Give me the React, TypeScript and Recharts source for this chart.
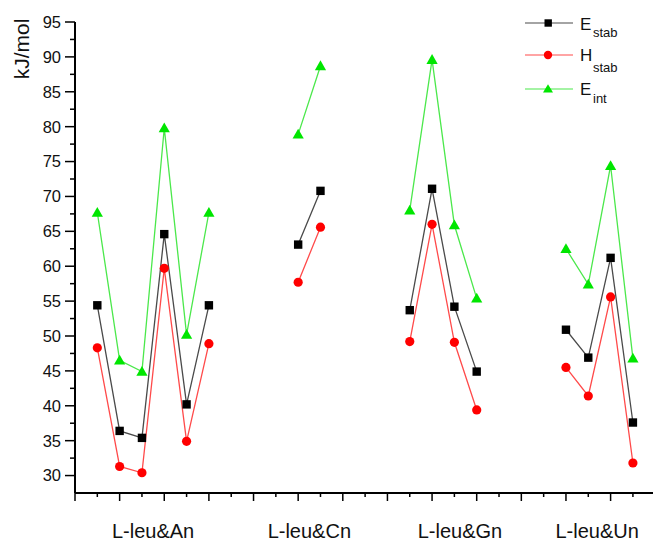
import React from "react";
import { LineChart, Line, XAxis, YAxis, Legend } from "recharts";

const groups = ["L-leu&An", "L-leu&Cn", "L-leu&Gn", "L-leu&Un"];
const groupLabelPos = [3.5, 10.5, 17.25, 23.4];
const groupSizes = [6, 2, 4, 4];
const positions = [1, 2, 3, 4, 5, 6, 10, 11, 15, 16, 17, 18, 22, 23, 24, 25];
const eStab = [54.4, 36.4, 35.4, 64.6, 40.2, 54.4, 63.1, 70.8, 53.7, 71.1, 54.2, 44.9, 50.9, 46.9, 61.2, 37.6];
const hStab = [48.3, 31.3, 30.4, 59.7, 34.9, 48.9, 57.7, 65.6, 49.2, 66.0, 49.1, 39.4, 45.5, 41.4, 55.6, 31.8];
const eInt = [67.7, 46.5, 44.9, 79.8, 50.2, 67.7, 78.9, 88.7, 68.0, 89.6, 65.9, 55.4, 62.5, 57.4, 74.4, 46.8];
const yTicks = [30, 32.5, 35, 37.5, 40, 42.5, 45, 47.5, 50, 52.5, 55, 57.5, 60, 62.5, 65, 67.5, 70, 72.5, 75, 77.5, 80, 82.5, 85, 87.5, 90, 92.5, 95];
const xMinorTicks = [0, 1, 2, 3, 4, 5, 6, 7, 8, 9, 10, 11, 12, 13, 14, 15, 16, 17, 18, 19, 20, 21, 22, 23, 24, 25];

const FONT = "'Liberation Sans', Arial, sans-serif";
const C_ESTAB_LINE = "#4a4a4a";
const C_HSTAB_LINE = "#ff4a4a";
const C_EINT_LINE = "#4be84b";
const C_ESTAB = "#000000";
const C_HSTAB = "#ff0000";
const C_EINT = "#00e600";

// build rows, inserting a null row between groups to break lines
const data: any[] = [];
{
  let k = 0;
  groupSizes.forEach((n, g) => {
    for (let i = 0; i < n; i++) {
      data.push({ x: positions[k], eStab: eStab[k], hStab: hStab[k], eInt: eInt[k] });
      k++;
    }
    if (g < groupSizes.length - 1) {
      data.push({ x: (positions[k - 1] + positions[k]) / 2, eStab: null, hStab: null, eInt: null });
    }
  });
}

const xTicks = [...xMinorTicks, ...groupLabelPos].sort((a, b) => a - b);

function XTick(props: any) {
  const { x, y, payload } = props;
  const v = payload.value;
  const idx = groupLabelPos.indexOf(v);
  if (idx >= 0) {
    return (
      <text x={x} y={y + 45} textAnchor="middle" fontSize={20} fontFamily={FONT} fill="#111">
        {groups[idx]}
      </text>
    );
  }
  const len = v % 2 === 0 ? 8 : 4;
  return <line x1={x} x2={x} y1={y} y2={y + len} stroke="#000" strokeWidth={1.5} />;
}

function YTick(props: any) {
  const { x, y, payload } = props;
  const v = payload.value;
  if (v % 5 === 0) {
    return (
      <g>
        <line x1={x - 10} x2={x} y1={y} y2={y} stroke="#000" strokeWidth={1.5} />
        <text x={x - 14} y={y} dy="0.36em" textAnchor="end" fontSize={16.5} fontFamily={FONT} fill="#111">
          {v}
        </text>
      </g>
    );
  }
  return <line x1={x - 5} x2={x} y1={y} y2={y} stroke="#000" strokeWidth={1.5} />;
}

function SquareDot(props: any) {
  const { cx, cy, index } = props;
  if (cx == null || cy == null) return <g key={"s" + index} />;
  return <rect key={"s" + index} x={cx - 4.2} y={cy - 4.2} width={8.4} height={8.4} fill={C_ESTAB} />;
}
function CircleDot(props: any) {
  const { cx, cy, index } = props;
  if (cx == null || cy == null) return <g key={"c" + index} />;
  return <circle key={"c" + index} cx={cx} cy={cy} r={4.6} fill={C_HSTAB} />;
}
function TriDot(props: any) {
  const { cx, cy, index } = props;
  if (cx == null || cy == null) return <g key={"t" + index} />;
  const s = 5.6;
  return (
    <polygon
      key={"t" + index}
      points={`${cx},${cy - s} ${cx + s},${cy + s * 0.75} ${cx - s},${cy + s * 0.75}`}
      fill={C_EINT}
    />
  );
}

function LegendContent() {
  const rows = [
    { line: C_ESTAB_LINE, kind: "sq", main: "E", sub: "stab", y: 23, base: 29.5, subBase: 37 },
    { line: C_HSTAB_LINE, kind: "ci", main: "H", sub: "stab", y: 55, base: 61, subBase: 72 },
    { line: C_EINT_LINE, kind: "tr", main: "E", sub: "int", y: 89, base: 95, subBase: 103 },
  ];
  return (
    <svg width={135} height={110} style={{ display: "block" }}>
      {rows.map((r, i) => (
        <g key={i}>
          <line x1={10} x2={58} y1={r.y} y2={r.y} stroke={r.line} strokeWidth={1.2} />
          {r.kind === "sq" && <rect x={29.5} y={r.y - 3.7} width={7.4} height={7.4} fill={C_ESTAB} />}
          {r.kind === "ci" && <circle cx={33} cy={r.y} r={4.2} fill={C_HSTAB} />}
          {r.kind === "tr" && (
            <polygon points={`33,${r.y - 4.8} 38,${r.y + 3.6} 28,${r.y + 3.6}`} fill={C_EINT} />
          )}
          <text x={65} y={r.base} fontSize={17} fontFamily={FONT} fill="#111">
            {r.main}
          </text>
          <text x={78} y={r.subBase} fontSize={13} fontFamily={FONT} fill="#111">
            {r.sub}
          </text>
        </g>
      ))}
    </svg>
  );
}

export default function App() {
  return (
    <div style={{ position: "absolute", left: 0, top: 0, width: 653, height: 542, background: "#fff" }}>
      <LineChart width={653} height={542} data={data} margin={{ top: 22, right: 0, bottom: 0, left: 0 }}>
        <XAxis
          dataKey="x"
          type="number"
          domain={[0, 25.9]}
          ticks={xTicks}
          interval={0}
          height={49}
          tickSize={0}
          tickMargin={0}
          tickLine={false}
          tick={<XTick />}
          axisLine={{ stroke: "#000", strokeWidth: 2 }}
          allowDataOverflow
        />
        <YAxis
          type="number"
          domain={[27.5, 95]}
          ticks={yTicks}
          interval={0}
          width={75}
          tickSize={0}
          tickMargin={0}
          tickLine={false}
          tick={<YTick />}
          axisLine={{ stroke: "#000", strokeWidth: 2 }}
          allowDataOverflow
          label={(p: any) => {
            const vb = p.viewBox || { x: 0, y: 22 };
            const lx = vb.x + 21;
            const ly = vb.y + 27;
            return (
              <text
                x={lx}
                y={ly}
                transform={`rotate(-90, ${lx}, ${ly})`}
                textAnchor="middle"
                dominantBaseline="central"
                fontSize={21}
                fontFamily={FONT}
                fill="#111"
              >
                kJ/mol
              </text>
            );
          }}
        />
        <Legend
          layout="horizontal"
          verticalAlign="middle"
          align="center"
          wrapperStyle={{ left: 515, top: 0, width: 135, height: 110 }}
          content={() => <LegendContent />}
        />
        <Line
          dataKey="eInt"
          stroke={C_EINT_LINE}
          strokeWidth={1.3}
          dot={(p: any) => <TriDot {...p} key={"t" + p.index} />}
          activeDot={false}
          isAnimationActive={false}
          connectNulls={false}
        />
        <Line
          dataKey="eStab"
          stroke={C_ESTAB_LINE}
          strokeWidth={1.3}
          dot={(p: any) => <SquareDot {...p} key={"s" + p.index} />}
          activeDot={false}
          isAnimationActive={false}
          connectNulls={false}
        />
        <Line
          dataKey="hStab"
          stroke={C_HSTAB_LINE}
          strokeWidth={1.3}
          dot={(p: any) => <CircleDot {...p} key={"c" + p.index} />}
          activeDot={false}
          isAnimationActive={false}
          connectNulls={false}
        />
      </LineChart>
    </div>
  );
}
